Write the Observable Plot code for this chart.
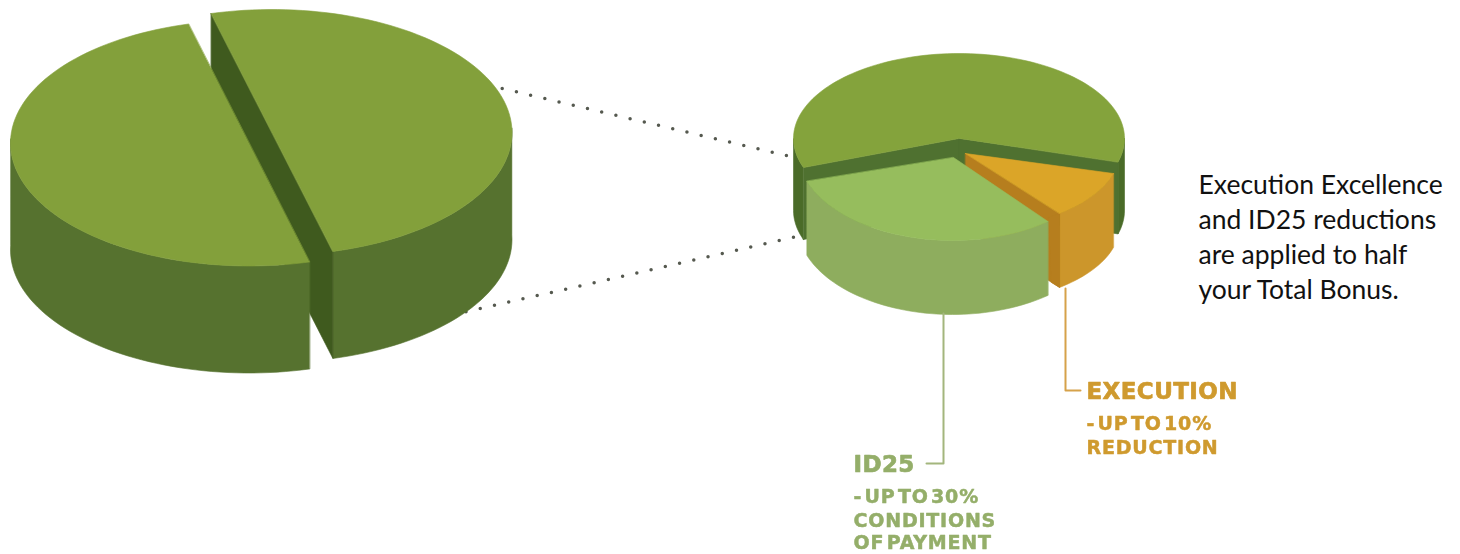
<!DOCTYPE html>
<html><head><meta charset="utf-8">
<script src="https://cdn.jsdelivr.net/npm/d3@7"></script>
<script src="https://cdn.jsdelivr.net/npm/@observablehq/plot@0.6"></script>
<style>
html,body{margin:0;padding:0;background:#fff;overflow:hidden}
svg{display:block}
text[aria-label="heading"]{letter-spacing:.4px}
text[aria-label="sub"]{letter-spacing:.8px;word-spacing:-5px}
</style></head><body><div id="chart"></div>
<script>
// Data: shares of the two pies
const totalLabels = ["Half A", "Half B"];
const totalShares = [50, 50];
const detailLabels = ["Remaining", "Execution", "ID25"];
const detailShares = [60, 10, 30];
const idLines = ["ID25", "- UP TO 30%", "CONDITIONS", "OF PAYMENT"];
const execLines = ["EXECUTION", "- UP TO 10%", "REDUCTION"];
const noteLines = ["Execution Excellence", "and ID25 reductions", "are applied to half", "your Total Bonus."];

// Share -> angle (degrees clockwise from the top of the ellipse)
function angles(shares, start) {
  let a = start;
  return shares.map(s => { const a0 = a; a += s * 3.6; return [a0, a]; });
}
const [bigA, bigB] = angles(totalShares, -14.7);
const [mainA, execA, idA] = angles(detailShares, 250);

// Geometry helpers
const pt = (e, deg) => {
  const t = deg * Math.PI / 180;
  return [e.cx + e.rx * Math.sin(t), e.cy - e.ry * Math.cos(t)];
};
const arc = (e, a0, a1) => {
  const n = Math.max(2, Math.ceil(Math.abs(a1 - a0) / 2));
  return d3.range(n + 1).map(i => pt(e, a0 + (a1 - a0) * i / n));
};
const down = (pts, d) => pts.map(([x, y]) => [x, y + d]);
const band = (pts, d) => [...pts, ...down(pts, d).reverse()];

const polys = [];
const add = (pts, fill) => polys.push({pts, fill});

// Big pie
const bigRight = {cx: 271.5, cy: 132, rx: 240, ry: 123};
const bigLeft = {cx: 248.5, cy: 142.5, rx: 238.5, ry: 123};
const bigD = 107;
const TOP = "#83a03b", SIDE = "#56722f", FACE = "#3f5a1e";
add(band(arc(bigRight, 88, bigA[1]), bigD), SIDE);
add(band([pt(bigRight, bigA[0]), pt(bigRight, bigA[1])], bigD), FACE);
add(arc(bigRight, bigA[0], bigA[1]), TOP);
add(band(arc(bigLeft, bigB[0], 272), bigD), SIDE);
add(arc(bigLeft, bigB[0], bigB[1]), TOP);

// Detail pie
const mainE = {cx: 958.5, cy: 138, rx: 165.5, ry: 85};
const mainApex = [958.5, 138];
const mainD = 72;
const idE = {cx: 952, cy: 150, rx: 155, ry: 90};
const idApex = [953, 157];
const idD = 74;
const exE = {cx: 963, cy: 151.5, rx: 156, ry: 78};
const exApex = [965, 153];
const exD = 74;
const mainArc = arc(mainE, mainA[0], mainA[1]);
add(band(arc(mainE, mainA[0], 270), mainD), "#4a6b28");
add(band(arc(mainE, 90, mainA[1] - 360), mainD), "#4a6b28");
add(band([mainArc[0], mainApex], mainD), "#4f7130");
add(band([mainApex, mainArc[mainArc.length - 1]], mainD), "#4f7130");
add([mainApex, ...mainArc], "#84a33c");

const exTip = pt(exE, execA[1]);
add(band(arc(exE, execA[0], execA[1]), exD), "#cc962b");
add(band([exApex, exTip], exD), "#b67e1e");
add([[exTip[0] - 11, exTip[1] + 4], exTip, [exTip[0], exTip[1] + exD], [exTip[0] - 8, exTip[1] + exD - 5]], "#b67e1e");
add([exApex, ...arc(exE, execA[0], execA[1])], "#dba528");

const idArc = arc(idE, idA[0], idA[1]);
add(band(idArc, idD), "#8ead5e");
add([idApex, ...idArc], "#96bd5d");

const polyMarks = polys.map(p =>
  Plot.line(p.pts, {x: d => d[0], y: d => d[1], fill: p.fill, stroke: p.fill, strokeWidth: 0.6, curve: "linear-closed", imageFilter: "blur(0.4px)"})
);

// Connectors
const dotted = [[[501.7, 88], [788, 155.5]], [[465.5, 311.3], [795, 236.4]]];
const idLeader = [[943, 313], [943, 463], [926, 463]];
const exLeader = [[1065, 288], [1065, 390], [1080, 390]];

const leaderMark = (pts, stroke) => Plot.line(pts, {x: d => d[0], y: d => d[1], stroke, strokeWidth: 2});

const textOf = (lines, xs, ys, fontSize, fill, label, font, weight, blur, thick) =>
  Plot.text(lines, {x: (_, i) => xs, y: (_, i) => ys[i], text: d => d, fontSize, fill, textAnchor: "start", lineAnchor: "middle",
    fontFamily: font, fontWeight: weight, ariaLabel: () => label, imageFilter: blur, stroke: thick ? fill : undefined, strokeWidth: thick});

const GREEN = "#94ae69", GOLD = "#cf9a2e";
const wide = "DejaVu Sans";

const chart = Plot.plot({
  width: 1460, height: 554, margin: 0,
  x: {domain: [0, 1460], range: [0, 1460], axis: null},
  y: {domain: [0, 554], range: [0, 554], axis: null},
  marks: [
    dotted.map(seg => Plot.line(seg, {x: d => d[0], y: d => d[1], stroke: "#55594f", strokeWidth: 3.5, strokeDasharray: "0 14.6", strokeLinecap: "round"})),
    polyMarks,
    leaderMark(idLeader, "#a3b67d"),
    leaderMark(exLeader, "#d6a24a"),
    textOf(idLines.slice(0, 1), 853, [464], 23, GREEN, "heading", wide, 700, "blur(0.5px)", 0.7),
    textOf(idLines.slice(1), 853, [496.5, 520, 542.5], 19, GREEN, "sub", wide, 700, "blur(0.5px)", 0.5),
    textOf(execLines.slice(0, 1), 1086, [391], 23, GOLD, "heading", wide, 700, "blur(0.5px)", 0.7),
    textOf(execLines.slice(1), 1086, [423, 447], 19, GOLD, "sub", wide, 700, "blur(0.5px)", 0.5),
    textOf(noteLines, 1198, [185, 220, 255, 290], 26.5, "#111", "note", "Lato", 400, null, 0)
  ]
});
document.getElementById("chart").append(chart);
</script></body></html>
